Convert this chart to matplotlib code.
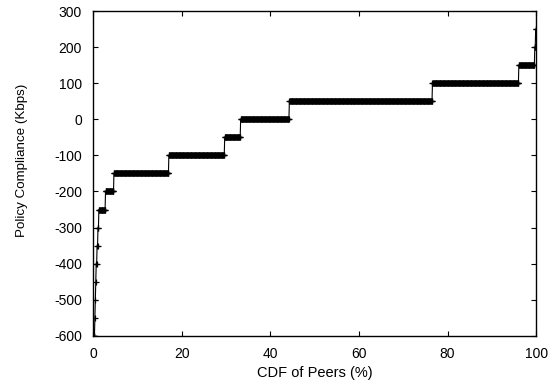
import matplotlib
matplotlib.use('Agg')
import matplotlib.pyplot as plt
import numpy as np

# compliance levels (Kbps) and how many of the 1001 sampled peers sit at each level
levels = [-600, -550, -500, -450, -400, -350, -300, -250, -200, -150,
          -100, -50, 0, 50, 100, 150, 200, 250]
counts = [4, 1, 1, 1, 2, 2, 2, 15, 19, 124,
          126, 36, 110, 323, 195, 36, 2, 2]

x_ticks = [0, 20, 40, 60, 80, 100]
y_ticks = [-600, -500, -400, -300, -200, -100, 0, 100, 200, 300]

plt.rcParams['font.family'] = ['Liberation Sans', 'DejaVu Sans']
plt.rcParams['font.size'] = 10
plt.rcParams['axes.unicode_minus'] = False

def cdf_plot():
    vals = np.repeat(levels, counts)
    cdf = np.arange(len(vals)) * 100.0 / (len(vals) - 1)

    fig = plt.figure(figsize=(5.51, 3.86), dpi=100)
    ax = fig.add_axes([0.169, 0.130, 0.804, 0.8415])
    ax.plot(cdf, vals, color='black', linewidth=0.8, marker='+',
            markersize=4.5, markeredgewidth=0.9)

    ax.set_xlim(0, 100)
    ax.set_ylim(-600, 300)
    ax.set_xticks(x_ticks)
    ax.set_yticks(y_ticks)
    ax.tick_params(direction='in', top=True, right=True, length=3.5, width=0.8)
    ax.tick_params(axis='y', pad=8)
    ax.tick_params(axis='x', pad=8)
    for s in ax.spines.values():
        s.set_linewidth(1.0)
    ax.set_xlabel('CDF of Peers (%)', labelpad=4, fontsize=10.5)
    ax.set_ylabel('Policy Compliance (Kbps)', fontsize=9.6)
    ax.yaxis.set_label_coords(-0.147, 0.54)
    fig.savefig('out.png', dpi=100)

if __name__ == '__main__':
    cdf_plot()
